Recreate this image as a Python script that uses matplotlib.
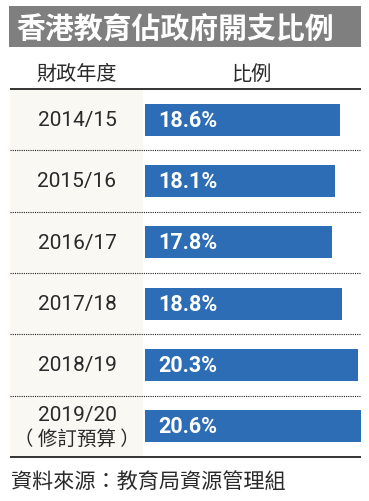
import matplotlib
matplotlib.use("Agg")
import matplotlib.pyplot as plt
import matplotlib.transforms as mtransforms
from matplotlib.patches import Rectangle
import numpy as np

plt.rcParams['font.family'] = ['Roboto', 'Noto Sans CJK TC', 'DejaVu Sans']

title = "香港教育佔政府開支比例"
header_left = "財政年度"
header_right = "比例"
source = "資料來源：教育局資源管理組"
years = ["2014/15", "2015/16", "2016/17", "2017/18", "2018/19", "2019/20"]
year_notes = ["", "", "", "", "", "（ 修訂預算 ）"]
values = [18.6, 18.1, 17.8, 18.8, 20.3, 20.6]
value_labels = ["18.6%", "18.1%", "17.8%", "18.8%", "20.3%", "20.6%"]

W, H = 369, 502
fig = plt.figure(figsize=(W / 100, H / 100), dpi=100)
fig.patch.set_facecolor("white")

CJK = ['Noto Sans CJK TC', 'DejaVu Sans']
TXT = "#2a2a2a"

# background / decoration layer in pixel coords
bg = fig.add_axes([0, 0, 1, 1])
bg.set_xlim(0, W)
bg.set_ylim(H, 0)
bg.axis("off")

bg.add_patch(Rectangle((9, 7), 352, 41, facecolor="#7f7f7f", edgecolor="none"))
bg.text(16, 28, title, color="white", fontsize=20.8, fontweight="bold",
        family=CJK, ha="left", va="center")
bg.text(77, 74, header_left, color=TXT, fontsize=14.5, family=CJK, ha="center", va="center")
bg.text(252, 74, header_right, color=TXT, fontsize=14.5, family=CJK, ha="center", va="center")
bg.add_patch(Rectangle((10, 90), 133, 368, facecolor="#f9f8f3", edgecolor="none"))
bg.plot([10, 361], [90, 90], color="#111111", lw=1.2, solid_capstyle="butt")
bg.plot([10, 361], [458, 458], color="#111111", lw=1.2, solid_capstyle="butt")
bg.text(11, 483, source, color=TXT, fontsize=15.2, family=CJK, ha="left", va="center")

# bar axes
x0, x1, ytop, ybot = 145, 361, 90, 458
ax = fig.add_axes([x0 / W, (H - ybot) / H, (x1 - x0) / W, (ybot - ytop) / H])
ax.patch.set_visible(False)
n = len(years)
ypos = np.arange(n)
ax.barh(ypos, values, height=0.52, color="#2d6db5", zorder=2)
ax.set_xlim(0, 20.6)
ax.set_ylim(n - 0.5, -0.5)
ax.axis("off")

blend = mtransforms.blended_transform_factory(ax.transAxes, ax.transData)
ax.hlines(ypos[:-1] + 0.5, (10 - x0) / (x1 - x0), 1.0, transform=blend,
          colors="#222222", linestyles=(0, (1, 1)), lw=0.8, clip_on=False)

lab_tr = mtransforms.blended_transform_factory(fig.transFigure, ax.transData)
for i, (yr, note) in enumerate(zip(years, year_notes)):
    if note:
        ax.text(77 / W, i - 0.2, yr, transform=lab_tr, ha="center", va="center",
                fontsize=15, color=TXT)
        ax.text(77 / W, i + 0.2, note, transform=lab_tr, ha="center", va="center",
                fontsize=14, color=TXT, family=CJK)
    else:
        ax.text(77 / W, i, yr, transform=lab_tr, ha="center", va="center",
                fontsize=15, color=TXT)

for i, lab in enumerate(value_labels):
    ax.annotate(lab, xy=(0, i), xytext=(9.4, 0), textcoords="offset points",
                ha="left", va="center", fontsize=15.5, fontweight="bold",
                color="white", zorder=3)

fig.savefig("out.png", dpi=100, facecolor="white")
